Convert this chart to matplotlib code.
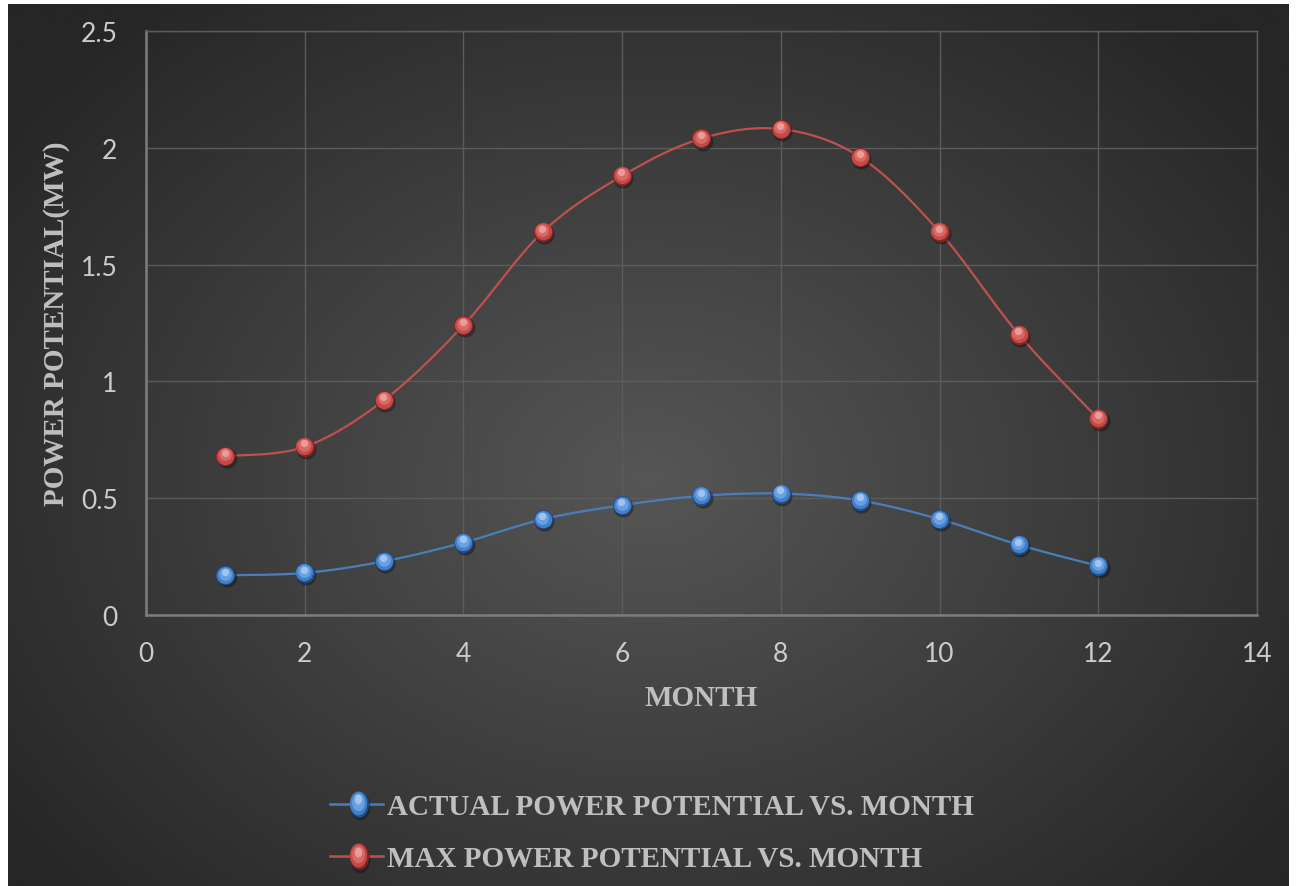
import numpy as np
import matplotlib
matplotlib.use("Agg")
import matplotlib.pyplot as plt
from matplotlib.lines import Line2D
from matplotlib.path import Path
from matplotlib.transforms import ScaledTranslation
from matplotlib.legend_handler import HandlerBase

# ---- data ----
months = [1, 2, 3, 4, 5, 6, 7, 8, 9, 10, 11, 12]
actual_power = [0.17, 0.18, 0.23, 0.31, 0.41, 0.47, 0.51, 0.52, 0.49, 0.41, 0.30, 0.21]
max_power = [0.68, 0.72, 0.92, 1.24, 1.64, 1.88, 2.04, 2.08, 1.96, 1.64, 1.20, 0.84]
series_names = ["ACTUAL POWER POTENTIAL VS. MONTH", "MAX POWER POTENTIAL VS. MONTH"]
x_ticks = [0, 2, 4, 6, 8, 10, 12, 14]
y_ticks = [0, 0.5, 1, 1.5, 2, 2.5]
y_tick_labels = ["0", "0.5", "1", "1.5", "2", "2.5"]

# sphere shading palettes: (dark rim, body, light, highlight, line)
BLUE = ("#224d86", "#4380cb", "#6fa6e6", "#cfe3fa", "#4a7ebb")
RED = ("#872523", "#c34a47", "#dc6f6c", "#f6c9c7", "#c0504d")

TEXT = "#bfbfbf"
TICK = "#cccccc"
GRID = "#5c5c5c"
SERIF = "Liberation Serif"
SANS = "Lato"

W, H, DPI = 1296, 887, 100
fig = plt.figure(figsize=(W / DPI, H / DPI), dpi=DPI, facecolor="white")

# chart-area backdrop with a soft radial gradient
bg = fig.add_axes([8 / W, 0, (1289 - 8) / W, (887 - 5) / H], zorder=-10)
gx, gy = np.meshgrid(np.linspace(8, 1289, 400), np.linspace(5, 887, 300))
r = np.sqrt(((gx - 648) / 800.0) ** 2 + ((gy - 480) / 620.0) ** 2)
r = np.clip(r, 0, 1)
shade = (86 - 48 * r) / 255.0
bg.imshow(np.dstack([shade, shade, shade]), extent=[0, 1, 0, 1], aspect="auto",
          interpolation="bilinear", origin="upper")
bg.set_axis_off()

ax = fig.add_axes([146 / W, (887 - 616) / H, (1257 - 146) / W, (616 - 32) / H])
ax.set_facecolor("none")


def smooth(xs, ys, n=30):
    """Cubic Bezier curve through the points (Catmull-Rom style tangents)."""
    x = np.asarray(xs, float)
    y = np.asarray(ys, float)
    px = np.concatenate([[x[0]], x, [x[-1]]])
    py = np.concatenate([[y[0]], y, [y[-1]]])
    out_x, out_y = [], []
    t = np.linspace(0, 1, n)
    for i in range(1, len(px) - 2):
        p0 = np.array([px[i], py[i]])
        p3 = np.array([px[i + 1], py[i + 1]])
        p1 = p0 + (np.array([px[i + 1], py[i + 1]]) - np.array([px[i - 1], py[i - 1]])) / 6
        p2 = p3 - (np.array([px[i + 2], py[i + 2]]) - np.array([px[i], py[i]])) / 6
        b = ((1 - t) ** 3)[:, None] * p0 + (3 * (1 - t) ** 2 * t)[:, None] * p1 \
            + (3 * (1 - t) * t ** 2)[:, None] * p2 + (t ** 3)[:, None] * p3
        out_x.append(b[:, 0])
        out_y.append(b[:, 1])
    return np.concatenate(out_x), np.concatenate(out_y)


def offset(base, dx, dy):
    return base + ScaledTranslation(dx / 72.0, dy / 72.0, fig.dpi_scale_trans)


# layers of a shaded sphere marker: (size, dx pt, dy pt, palette index / shadow, alpha)
SPHERE = [
    (1.04, 0.9, -1.5, "shadow", 0.45),
    (1.00, 0.0, 0.0, 0, 1.0),
    (0.90, -0.2, 0.4, 1, 1.0),
    (0.66, -0.4, 1.2, 2, 0.85),
    (0.38, -0.5, 2.4, 3, 0.55),
]


def draw_series(xs, ys, pal, label, size=13.8):
    sx, sy = smooth(xs, ys)
    ax.plot(sx, sy, color=pal[4], lw=1.6, zorder=3, label=label)
    for k, (f, dx, dy, idx, a) in enumerate(SPHERE):
        col = "#111111" if idx == "shadow" else pal[idx]
        ax.plot(xs, ys, ls="none", marker="o", ms=size * f, mfc=col, mec="none", alpha=a,
                transform=offset(ax.transData, dx, dy), zorder=4 + k * 0.1)


draw_series(months, actual_power, BLUE, series_names[0])
draw_series(months, max_power, RED, series_names[1])

ax.set_xlim(0, 14)
ax.set_ylim(0, 2.5)
ax.set_xticks(x_ticks)
ax.set_yticks(y_ticks)
ax.set_yticklabels(y_tick_labels)
ax.grid(True, color=GRID, lw=1.0, zorder=0)
ax.set_axisbelow(True)
ax.tick_params(length=0, colors=TICK, labelsize=19)
ax.tick_params(axis="x", pad=19)
ax.tick_params(axis="y", pad=20.5)
for lab in ax.get_xticklabels() + ax.get_yticklabels():
    lab.set_fontfamily(SANS)
for side in ("top", "right"):
    ax.spines[side].set_color(GRID)
    ax.spines[side].set_linewidth(1.0)
for side in ("left", "bottom"):
    ax.spines[side].set_color("#7d7d7d")
    ax.spines[side].set_linewidth(1.8)

ax.set_xlabel("MONTH", family=SERIF, weight="bold", size=21, color=TEXT, va="center")
ax.set_ylabel("POWER POTENTIAL(MW)", family=SERIF, weight="bold", size=21, color=TEXT,
              va="center")
ax.xaxis.set_label_coords(0.5, -0.142)
ax.yaxis.set_label_coords((57 - 146) / 1111, 0.5)

# slightly tall oval marker for the legend keys
_t = np.linspace(0, 2 * np.pi, 64)
OVAL = Path(np.column_stack([0.72 * np.cos(_t), np.sin(_t)]), closed=True)


class SphereHandler(HandlerBase):
    def __init__(self, pal):
        super().__init__()
        self.pal = pal

    def create_artists(self, legend, orig_handle, xdescent, ydescent, width, height,
                       fontsize, trans):
        yc = height / 2 - ydescent
        line = Line2D([-xdescent, width - xdescent], [yc, yc], color=self.pal[4], lw=1.8,
                      transform=trans)
        arts = [line]
        xc = width / 2 - xdescent
        for f, dx, dy, idx, a in SPHERE:
            col = "#111111" if idx == "shadow" else self.pal[idx]
            m = Line2D([xc], [yc], ls="none", marker=OVAL, ms=19 * f, mfc=col, mec="none",
                       alpha=a, transform=offset(trans, dx * 0.9 + 1.5, dy * 1.3))
            arts.append(m)
        return arts


h_blue = Line2D([], [], color=BLUE[4])
h_red = Line2D([], [], color=RED[4])
leg = fig.legend([h_blue, h_red], series_names,
                 handler_map={h_blue: SphereHandler(BLUE), h_red: SphereHandler(RED)},
                 loc="center left", bbox_to_anchor=(330 / W, (887 - 833.5) / H),
                 frameon=False, borderpad=0, borderaxespad=0, handlelength=1.82,
                 handletextpad=0.14, labelspacing=0.86,
                 prop={"family": SERIF, "weight": "bold", "size": 21})
for t in leg.get_texts():
    t.set_color(TEXT)

fig.savefig("out.png", dpi=DPI, facecolor="white")
